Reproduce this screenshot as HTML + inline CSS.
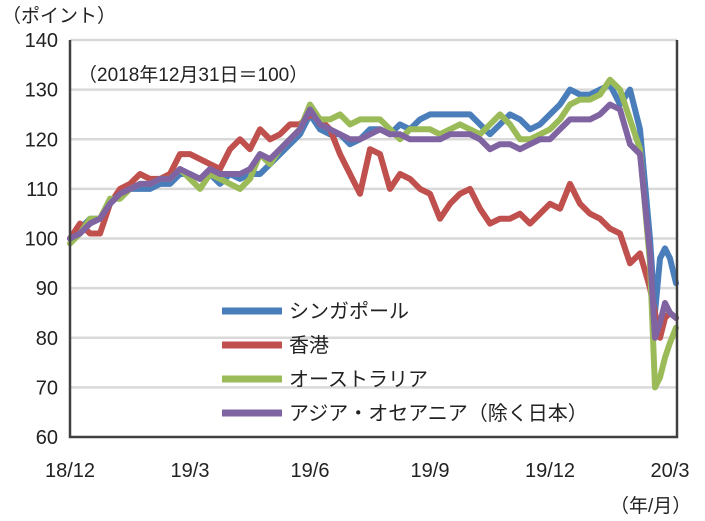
<!DOCTYPE html>
<html><head><meta charset="utf-8"><style>
html,body{margin:0;padding:0;background:#fff;}
svg{display:block;font-family:"Liberation Sans","Noto Sans CJK JP",sans-serif;}
</style></head><body>
<svg id="chart" width="705" height="521" viewBox="0 0 705 521" xmlns="http://www.w3.org/2000/svg"></svg>
<script>
const yTicks=[60,70,80,90,100,110,120,130,140];
const xTickPos=[0,3,6,9,12,15];
const xTickLabels=["18/12","19/3","19/6","19/9","19/12","20/3"];
const seriesNames=["シンガポール","香港","オーストラリア","アジア・オセアニア（除く日本）"];
const colors=["#4a7ebb","#c0504d","#9bbb59","#8064a2"];
const tExtra=[14.625,14.75,14.875,15,15.15];
const singapore=[100,102,104,104,107,109,110,110,110,111,111,113,113,112,113,111,113,112,113,113,115,117,119,121,125,122,121,121,119,120,122,122,121,123,122,124,125,125,125,125,125,123,121,123,125,124,122,123,125,127,130,129,129,130,131,127,130,122,100,85,96,98,96,91];
const hongkong=[100,103,101,101,107,110,111,113,112,112,113,117,117,116,115,114,118,120,118,122,120,121,123,123,125,124,122,117,113,109,118,117,110,113,112,110,109,104,107,109,110,106,103,104,104,105,103,105,107,106,111,107,105,104,102,101,95,97,90,85,80,84,85,84];
const australia=[99,101,104,104,108,108,110,111,111,112,112,114,112,110,113,112,111,110,112,117,115,118,120,122,127,124,124,125,123,124,124,124,122,120,122,122,122,121,122,123,122,121,123,125,123,120,120,121,122,124,127,128,128,129,132,130,124,118,95,70,72,76,79,82];
const asiaPac=[100,101,103,104,107,109,110,111,111,112,112,114,113,112,114,113,113,113,114,117,116,118,120,122,126,123,122,121,120,120,121,122,121,121,120,120,120,120,121,121,121,120,118,119,119,118,119,120,120,122,124,124,124,125,127,126,119,117,97,80,83,87,85,84];
const t=[];for(let i=0;i<=58;i++)t.push(i*0.25);t.push(...tExtra);
const L=70,R=677,T=40,B=437;
const xs=v=>L+v*40;
const ys=v=>B-(v-60)*(B-T)/80;
const svg=document.getElementById('chart');
const NS="http://www.w3.org/2000/svg";
function mk(tag,attrs,parent){const e=document.createElementNS(NS,tag);for(const k in attrs)e.setAttribute(k,attrs[k]);(parent||svg).appendChild(e);return e;}
yTicks.forEach(v=>{
  if(v>60){const g=mk('line',{x1:L,x2:R,y1:ys(v),y2:ys(v),stroke:'#d9d9d9','stroke-width':2.5});
  
  }
  const tx=mk('text',{x:58,y:ys(v)+7,'text-anchor':'end','font-size':20,fill:'#222'});tx.textContent=v;
  
  
});
xTickPos.forEach((p,i)=>{
  const tx=mk('text',{x:xs(p),y:477,'text-anchor':'middle','font-size':20,fill:'#222'});tx.textContent=xTickLabels[i];
  
  
});
[singapore,hongkong,australia,asiaPac].forEach((arr,si)=>{
  const d=arr.map((v,i)=>(i?'L':'M')+xs(t[i]).toFixed(1)+' '+ys(v).toFixed(1)).join(' ');
  const p=mk('path',{d:d,fill:'none',stroke:colors[si],'stroke-width':6,'stroke-linejoin':'round','stroke-linecap':'round'});
  
  
});
const ax=mk('path',{d:`M${L} ${T} L${L} ${B} L${R} ${B} L${R} ${T}`,fill:'none',stroke:'#404040','stroke-width':2.5});


seriesNames.forEach((n,i)=>{
  const y=311+i*34;
  const l=mk('line',{x1:222,x2:282,y1:y,y2:y,stroke:colors[i],'stroke-width':7});
  
  
  const tx=mk('text',{x:289,y:y+7,'font-size':20,fill:'#222'});tx.textContent=n;
  
  
});
const a=mk('text',{x:2,y:22,'font-size':19,fill:'#222'});a.textContent='（ポイント）';


const b=mk('text',{x:78,y:81,'font-size':19,fill:'#222'});b.textContent='（2018年12月31日＝100）';


const c=mk('text',{x:610,y:512,'font-size':19,fill:'#222'});c.textContent='（年/月）';


</script>
</body></html>
